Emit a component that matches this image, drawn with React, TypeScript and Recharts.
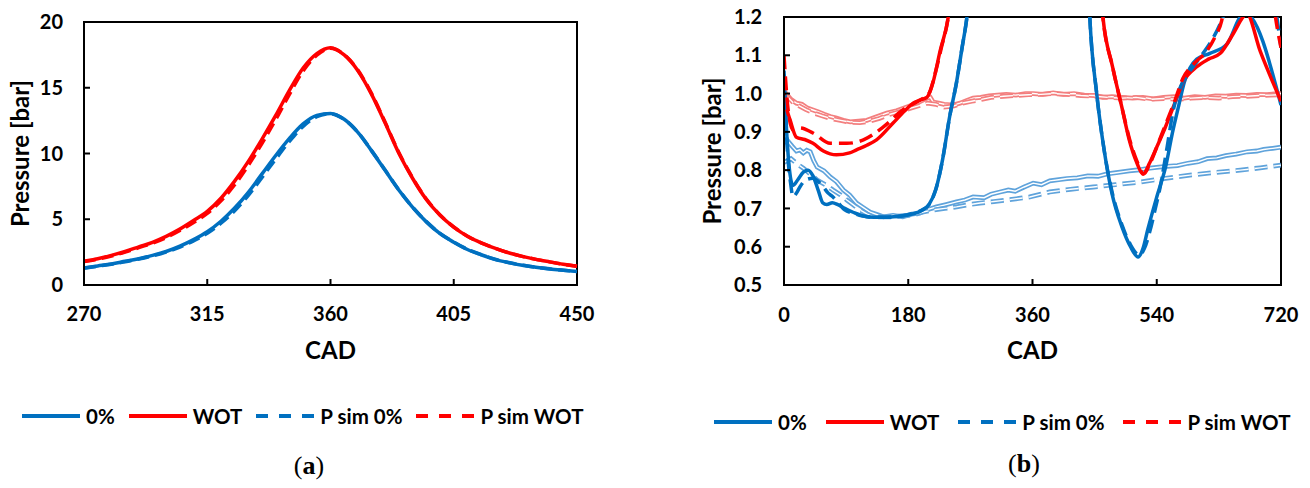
import React from 'react';
import { LineChart, Line, XAxis, YAxis, ReferenceArea, Legend } from 'recharts';

const BLUE = '#0070C0';
const RED = '#FF0000';
const LIGHT_BLUE = '#5FA3DB';
const LIGHT_RED = '#F37F7F';
const FONT = 'Lato, "Open Sans", sans-serif';

const legendOrder = ['0%', 'WOT', 'P sim 0%', 'P sim WOT'];

// ---------- chart (a) ----------
const cadA = [270,275,280,285,290,295,300,305,310,315,320,325,330,335,340,345,350,355,360,365,370,375,380,385,390,395,400,405,410,415,420,425,430,435,440,445,450];
const p0A = [1.30,1.45,1.60,1.80,2.00,2.25,2.55,2.95,3.45,4.05,4.85,5.85,7.05,8.45,9.85,11.15,12.25,12.90,13.05,12.60,11.60,10.20,8.70,7.20,5.90,4.80,3.90,3.25,2.70,2.30,1.95,1.70,1.50,1.35,1.22,1.12,1.03];
const sim0A = [1.28,1.43,1.58,1.77,1.97,2.21,2.50,2.88,3.36,3.93,4.70,5.65,6.82,8.18,9.58,10.92,12.06,12.80,13.02,12.60,11.62,10.22,8.72,7.22,5.92,4.82,3.92,3.27,2.72,2.31,1.96,1.71,1.51,1.36,1.23,1.12,1.03];
const pWotA = [1.80,2.00,2.25,2.55,2.90,3.25,3.70,4.25,4.90,5.60,6.60,7.90,9.40,11.10,12.90,14.80,16.50,17.60,18.05,17.50,16.30,14.50,12.30,10.00,8.10,6.50,5.30,4.40,3.70,3.20,2.80,2.45,2.18,1.95,1.76,1.58,1.42];
const simWotA = [1.78,1.97,2.21,2.50,2.84,3.18,3.61,4.14,4.76,5.44,6.40,7.62,9.10,10.78,12.58,14.50,16.28,17.48,18.00,17.52,16.34,14.55,12.35,10.05,8.14,6.53,5.32,4.41,3.71,3.21,2.80,2.45,2.18,1.95,1.76,1.58,1.42];
const xTicksA = [270, 315, 360, 405, 450];
const yTicksA = [0, 5, 10, 15, 20];

// ---------- chart (b) ----------
const cadB0 = [0,3,8,13,20,28,35,42,50,56,62,70,78,88,100,115,130,150,170,185,200,210,220,230,240,250,258,265,275,300,330,360,390,420,435,443,453,464,475,490,502,513,520,527,540,553,563,572,580,598,617,642,661,668,720];
const pB0 = [1.06,0.93,0.80,0.76,0.775,0.795,0.80,0.785,0.745,0.715,0.71,0.715,0.71,0.70,0.69,0.68,0.677,0.677,0.68,0.685,0.695,0.71,0.75,0.83,0.94,1.03,1.12,1.2,1.4,2.5,6,13,6,2.5,1.6,1.2,1.0,0.85,0.74,0.65,0.60,0.573,0.595,0.645,0.73,0.81,0.9,0.97,1.03,1.09,1.105,1.13,1.2,1.21,0.97];

const cadBW = [0,4,9,18,30,42,57,76,95,105,120,134,158,175,187,197,207,216,226,238,250,300,360,420,450,462,476,490,500,511,520,530,540,552,564,578,598,615,632,651,665,670,690,720];
const pBW = [1.0,0.96,0.93,0.886,0.88,0.87,0.85,0.84,0.845,0.853,0.865,0.879,0.923,0.955,0.975,0.983,0.99,1.03,1.11,1.2,1.4,4,18,4,1.5,1.2,1.07,0.96,0.88,0.82,0.79,0.82,0.86,0.91,0.965,1.03,1.07,1.09,1.105,1.157,1.2,1.21,1.11,0.98];

const cadBS0 = [0,5,10,13,18,23,32,42,50,57,64,71,80,88,100,115,130,150,170,185,200,210,220,230,240,250,258,265,275,300,330,360,390,420,435,443,453,464,475,490,502,515,522,530,538,545,555,564,575,585,605,620,636,660,700,714,720];
const pBS0 = [1.05,0.85,0.76,0.73,0.74,0.756,0.775,0.779,0.77,0.756,0.74,0.73,0.712,0.696,0.688,0.68,0.677,0.677,0.68,0.686,0.696,0.71,0.75,0.83,0.94,1.03,1.12,1.2,1.4,2.5,6,13,6,2.5,1.6,1.2,1.0,0.85,0.745,0.655,0.605,0.578,0.595,0.64,0.7,0.756,0.86,0.957,1.02,1.05,1.1,1.14,1.2,1.35,1.35,1.2,1.12];

const cadBSW = [0,6,13,23,42,67,91,115,144,172,197,210,220,228,238,250,300,360,420,450,462,476,490,500,511,521,531,541,553,565,578,595,612,625,634,640,680,705,712,720];
const pBSW = [1.1,0.957,0.905,0.91,0.897,0.87,0.87,0.879,0.913,0.957,0.983,1.0,1.06,1.12,1.2,1.4,4,18,4,1.5,1.2,1.07,0.96,0.885,0.825,0.79,0.82,0.865,0.92,0.975,1.04,1.08,1.11,1.15,1.19,1.25,1.5,1.3,1.2,1.12];

const cadLR = [0,4,10,18,26,34,42,50,58,67,76,86,96,108,120,132,149,163,178,193,207,212,216,224,232,245,255,265,274,285,297,309,322,336,350,361,375,390,405,420,435,450,462,475,490,505,520,535,550,565,580,595,610,625,640,655,670,685,700,710,720];
const pLR = [0.99,0.998,0.985,0.975,0.972,0.962,0.957,0.952,0.946,0.94,0.936,0.93,0.926,0.928,0.93,0.938,0.949,0.955,0.965,0.975,0.988,0.99,0.978,0.975,0.972,0.97,0.975,0.982,0.988,0.99,0.994,0.996,0.998,0.996,1.0,1.0,0.998,1.002,0.998,1.0,0.996,0.995,0.99,0.992,0.99,0.988,0.99,0.986,0.99,0.992,0.988,0.992,0.99,0.994,0.993,0.996,0.995,0.998,0.997,0.999,1.0];

const cadLRS = [0,6,14,22,32,42,55,68,82,96,110,124,138,152,166,180,195,208,220,232,245,258,272,286,300,318,336,354,372,390,410,430,450,470,490,510,530,550,570,590,610,630,650,670,690,705,720];
const pLRS = [0.98,0.99,0.975,0.968,0.958,0.95,0.942,0.935,0.93,0.925,0.924,0.928,0.935,0.945,0.952,0.96,0.968,0.975,0.972,0.965,0.967,0.975,0.98,0.985,0.99,0.993,0.995,0.997,0.998,1.0,0.998,0.995,0.993,0.99,0.988,0.99,0.985,0.987,0.985,0.988,0.99,0.988,0.992,0.993,0.995,0.996,0.997];

const cadLB = [0,4,12,18,23,28,33,38,43,48,58,67,76,86,95,105,115,125,135,144,158,172,185,197,210,221,235,250,262,274,290,300,313,325,335,348,361,373,385,398,410,425,440,455,468,484,500,515,530,543,555,570,585,600,613,627,640,655,671,685,695,708,720];
const pLB = [0.87,0.879,0.862,0.85,0.853,0.845,0.852,0.848,0.825,0.808,0.798,0.782,0.77,0.748,0.735,0.714,0.702,0.69,0.684,0.678,0.682,0.678,0.685,0.688,0.698,0.704,0.71,0.717,0.722,0.73,0.728,0.737,0.743,0.748,0.745,0.756,0.766,0.762,0.772,0.775,0.778,0.78,0.785,0.784,0.79,0.794,0.798,0.801,0.805,0.808,0.81,0.812,0.818,0.822,0.83,0.832,0.838,0.842,0.848,0.85,0.854,0.857,0.86];

const cadLBS = [0,10,20,28,38,48,60,71,82,91,100,110,120,129,145,158,172,187,200,216,233,250,268,284,304,323,340,356,385,415,448,480,516,550,588,625,661,690,720];
const pLBS = [0.82,0.83,0.815,0.805,0.79,0.774,0.762,0.748,0.735,0.722,0.71,0.696,0.686,0.678,0.678,0.678,0.681,0.683,0.69,0.696,0.70,0.704,0.71,0.714,0.718,0.722,0.726,0.73,0.743,0.75,0.756,0.762,0.769,0.778,0.787,0.794,0.80,0.806,0.813];

const xTicksB = [0, 180, 360, 540, 720];
const yTicksB = [0.5, 0.6, 0.7, 0.8, 0.9, 1.0, 1.1, 1.2];

// ---------- helpers ----------
const rows = (xs: number[], ys: number[]) => xs.map((x, i) => ({ x, y: ys[i] }));
const rowsA = cadA.map((x, i) => ({ x, p0: p0A[i], pw: pWotA[i], s0: sim0A[i], sw: simWotA[i] }));

const tickStyle = { fill: '#000', fontSize: 20, fontWeight: 700, fontFamily: FONT };
const titleStyle = { fill: '#000', fontSize: 24, fontWeight: 700, fontFamily: FONT, textAnchor: 'middle' as const };

const LegendRow = ({ payload, gap }: { payload: any[]; gap: number }) => {
  const items = (payload || [])
    .filter((e) => e.type !== 'none' && legendOrder.indexOf(e.value) >= 0)
    .sort((a, b) => legendOrder.indexOf(a.value) - legendOrder.indexOf(b.value));
  return (
    <div style={{ display: 'flex', alignItems: 'center', height: 30, fontFamily: FONT, fontWeight: 700, fontSize: 20.5, color: '#000', whiteSpace: 'nowrap' }}>
      {items.map((e, i) => (
        <div key={i} style={{ display: 'flex', alignItems: 'center', marginRight: gap }}>
          <svg width={58} height={6} style={{ display: 'block' }}>
            <line x1={0} y1={3} x2={58} y2={3} stroke={e.color} strokeWidth={4}
              strokeDasharray={e.payload && e.payload.strokeDasharray ? '12 11' : undefined} />
          </svg>
          <span style={{ marginLeft: 6 }}>{e.value}</span>
        </div>
      ))}
    </div>
  );
};

const DoubleLine = (key: string, data: any[], color: string, dashed: boolean) => [
  <Line key={key + 'o'} data={data} dataKey="y" type="linear" stroke={color} strokeWidth={4.8}
    strokeDasharray={dashed ? '13 6' : undefined} dot={false} legendType="none" isAnimationActive={false} />,
  <Line key={key + 'i'} data={data} dataKey="y" type="linear" stroke="#fff" strokeWidth={1.4}
    strokeDasharray={dashed ? '13 6' : undefined} dot={false} legendType="none" isAnimationActive={false} />,
];

const ChartA = () => (
  <LineChart width={620} height={488} data={rowsA} margin={{ top: 22, right: 43, left: 0, bottom: 93 }}>
    <XAxis dataKey="x" type="number" domain={[270, 450]} ticks={xTicksA} tick={tickStyle}
      axisLine={{ stroke: '#000', strokeWidth: 2 }} tickLine={{ stroke: '#000', strokeWidth: 2 }}
      tickSize={-6} tickMargin={28} height={80}
      label={{ value: 'CAD', position: 'insideBottom', offset: 6, style: titleStyle }} />
    <YAxis type="number" domain={[0, 20]} ticks={yTicksA} tick={tickStyle} width={84}
      axisLine={{ stroke: '#000', strokeWidth: 2 }} tickLine={{ stroke: '#000', strokeWidth: 2 }}
      tickSize={-6} tickMargin={27}
      label={{ value: 'Pressure [bar]', angle: -90, position: 'insideLeft', offset: 20, style: titleStyle }} />
    <ReferenceArea x1={270} x2={450} y1={0} y2={20} fill="none" stroke="#000" strokeWidth={2} fillOpacity={0} />
    <Line dataKey="p0" name="0%" type="monotone" stroke={BLUE} strokeWidth={3.5} dot={false} isAnimationActive={false} />
    <Line dataKey="pw" name="WOT" type="monotone" stroke={RED} strokeWidth={3.5} dot={false} isAnimationActive={false} />
    <Line dataKey="s0" name="P sim 0%" type="monotone" stroke={BLUE} strokeWidth={3.5} strokeDasharray="12 6" dot={false} isAnimationActive={false} />
    <Line dataKey="sw" name="P sim WOT" type="monotone" stroke={RED} strokeWidth={3.5} strokeDasharray="12 6" dot={false} isAnimationActive={false} />
    <Legend wrapperStyle={{ left: 22, top: 401, width: 598, height: 30 }}
      content={(props: any) => <LegendRow payload={props.payload} gap={14} />} />
  </LineChart>
);

const ChartB = () => (
  <LineChart width={650} height={488} margin={{ top: 17, right: 29, left: 0, bottom: 93 }}>
    <XAxis dataKey="x" type="number" domain={[0, 720]} ticks={xTicksB} tick={tickStyle} allowDataOverflow
      axisLine={{ stroke: '#000', strokeWidth: 2 }} tickLine={{ stroke: '#000', strokeWidth: 2 }}
      tickSize={-6} tickMargin={29} height={80}
      label={{ value: 'CAD', position: 'insideBottom', offset: 6, style: titleStyle }} />
    <YAxis type="number" domain={[0.5, 1.2]} ticks={yTicksB} tick={tickStyle} width={124} allowDataOverflow
      tickFormatter={(v: number) => v.toFixed(1)}
      axisLine={{ stroke: '#000', strokeWidth: 2 }} tickLine={{ stroke: '#000', strokeWidth: 2 }}
      tickSize={-6} tickMargin={28}
      label={{ value: 'Pressure [bar]', angle: -90, position: 'insideLeft', offset: 52, style: titleStyle }} />
    <ReferenceArea x1={0} x2={720} y1={0.5} y2={1.2} fill="none" stroke="#000" strokeWidth={2} fillOpacity={0} />
    {DoubleLine('lr', rows(cadLR, pLR), LIGHT_RED, false)}
    {DoubleLine('lrs', rows(cadLRS, pLRS), LIGHT_RED, true)}
    {DoubleLine('lb', rows(cadLB, pLB), LIGHT_BLUE, false)}
    {DoubleLine('lbs', rows(cadLBS, pLBS), LIGHT_BLUE, true)}
    <Line data={rows(cadB0, pB0)} dataKey="y" name="0%" type="monotone" stroke={BLUE} strokeWidth={3.5} dot={false} isAnimationActive={false} />
    <Line data={rows(cadBW, pBW)} dataKey="y" name="WOT" type="monotone" stroke={RED} strokeWidth={3.5} dot={false} isAnimationActive={false} />
    <Line data={rows(cadBS0, pBS0)} dataKey="y" name="P sim 0%" type="monotone" stroke={BLUE} strokeWidth={3.5} strokeDasharray="14 7" dot={false} isAnimationActive={false} />
    <Line data={rows(cadBSW, pBSW)} dataKey="y" name="P sim WOT" type="monotone" stroke={RED} strokeWidth={3.5} strokeDasharray="14 7" dot={false} isAnimationActive={false} />
    <Legend wrapperStyle={{ left: 54, top: 407, width: 596, height: 30 }}
      content={(props: any) => <LegendRow payload={props.payload} gap={19} />} />
  </LineChart>
);

const captionStyle: React.CSSProperties = {
  position: 'absolute', fontFamily: '"Liberation Serif", "DejaVu Serif", serif', fontSize: 26, color: '#000',
  transform: 'translate(-50%, -50%)', whiteSpace: 'nowrap',
};

export default function App() {
  return (
    <div style={{ position: 'absolute', left: 0, top: 0, width: 1310, height: 488, background: '#fff', overflow: 'hidden' }}>
      <div style={{ position: 'absolute', left: 0, top: 0 }}><ChartA /></div>
      <div style={{ position: 'absolute', left: 660, top: 0 }}><ChartB /></div>
      <div style={{ ...captionStyle, left: 309, top: 466 }}>(<b>a</b>)</div>
      <div style={{ ...captionStyle, left: 1024, top: 464 }}>(<b>b</b>)</div>
    </div>
  );
}
